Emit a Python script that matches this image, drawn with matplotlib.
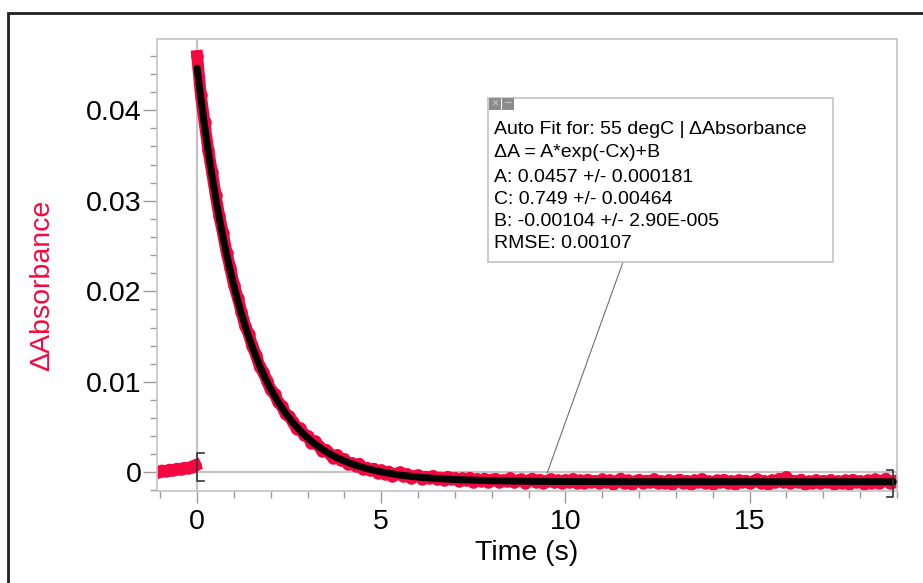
import numpy as np
from matplotlib import pyplot as plt
from matplotlib import rc
from matplotlib.patches import Rectangle
from matplotlib.ticker import MultipleLocator

rc('font', family=['Liberation Sans', 'DejaVu Sans'])

W, H = 923, 583

# pre-trigger data, t = -1.05 ... -0.05 s
pre_t = np.round(np.arange(-1.05, 0.0, 0.1), 2)
pre_y = [0.00008, 0.00020, 0.00012, 0.00030, 0.00024, 0.00040,
         0.00034, 0.00050, 0.00046, 0.00062, 0.00078]

# decay data, t = 0.0 ... 18.9 s
run_t = np.round(np.arange(0.0, 18.95, 0.1), 1)
run_y = [0.04600, 0.04166, 0.03870, 0.03566, 0.03323, 0.03069, 0.02832, 0.02641, 0.02426, 0.02255,
         0.02067, 0.01931, 0.01776, 0.01622, 0.01528, 0.01392, 0.01295, 0.01165, 0.01103, 0.01007,
         0.00908, 0.00864, 0.00776, 0.00732, 0.00643, 0.00619, 0.00558, 0.00481, 0.00487, 0.00417,
         0.00399, 0.00324, 0.00342, 0.00292, 0.00234, 0.00248, 0.00204, 0.00162, 0.00191, 0.00132,
         0.00145, 0.00088, 0.00103, 0.00069, 0.00095, 0.00033, 0.00052, 0.00021, 0.00041, -0.00008,
         0.00024, -0.00014, 0.00009, -0.00037, -0.00014, 0.00000, -0.00045, -0.00020, -0.00065, -0.00039,
         -0.00033,
         -0.00072, -0.00048, -0.00066, -0.00040, -0.00078, -0.00058, -0.00082, -0.00050, -0.00074, -0.00062,
         -0.00096, -0.00066, -0.00088, -0.00060, -0.00102, -0.00074, -0.00092, -0.00070, -0.00108, -0.00080,
         -0.00072, -0.00110, -0.00086, -0.00100, -0.00064, -0.00112, -0.00090, -0.00078, -0.00116, -0.00088,
         -0.00070, -0.00106, -0.00082, -0.00118, -0.00094, -0.00076, -0.00112, -0.00090, -0.00120, -0.00084,
         -0.00102, -0.00074, -0.00116, -0.00090, -0.00122, -0.00080, -0.00108, -0.00094, -0.00118, -0.00078,
         -0.00112, -0.00088, -0.00124, -0.00096, -0.00070, -0.00114, -0.00090, -0.00126, -0.00100, -0.00082,
         -0.00118, -0.00092, -0.00110, -0.00076, -0.00122, -0.00098, -0.00114, -0.00086, -0.00128, -0.00096,
         -0.00080, -0.00116, -0.00094, -0.00124, -0.00088, -0.00108, -0.00074, -0.00120, -0.00100, -0.00130,
         -0.00090, -0.00112, -0.00082, -0.00118, -0.00096, -0.00126, -0.00086, -0.00110, -0.00092, -0.00122,
         -0.00098, -0.00078, -0.00116, -0.00094, -0.00124, -0.00088, -0.00112, -0.00072, -0.00106, -0.00050,
         -0.00120, -0.00092, -0.00110, -0.00080, -0.00126, -0.00100, -0.00116, -0.00086, -0.00122, -0.00094,
         -0.00112, -0.00084, -0.00128, -0.00098, -0.00118, -0.00090, -0.00124, -0.00082, -0.00110, -0.00096,
         -0.00126, -0.00088, -0.00114, -0.00078, -0.00120, -0.00092, -0.00070, -0.00116, -0.00102]

# auto fit curve
fit_t = [0.0, 0.1, 0.2, 0.3, 0.4, 0.5, 0.6, 0.7, 0.8, 0.9, 1.0, 1.1, 1.2, 1.3, 1.4, 1.5,
         1.6, 1.7, 1.8, 1.9, 2.0, 2.2, 2.4, 2.6, 2.8, 3.0, 3.2, 3.4, 3.6, 3.8, 4.0, 4.3,
         4.6, 5.0, 5.5, 6.0, 6.5, 7.0, 8.0, 9.0, 10.0, 11.0, 12.0, 14.0, 16.0, 18.9]
fit_y = [0.04466, 0.04136, 0.03830, 0.03546, 0.03283, 0.03039, 0.02812, 0.02601, 0.02406,
         0.02225, 0.02057, 0.01901, 0.01756, 0.01622, 0.01498, 0.01382, 0.01275, 0.01175,
         0.01083, 0.00997, 0.00918, 0.00776, 0.00653, 0.00548, 0.00457, 0.00379, 0.00312,
         0.00254, 0.00204, 0.00161, 0.00125, 0.00079, 0.00042, 0.00004, -0.00030, -0.00053,
         -0.00068, -0.00080, -0.00093, -0.00099, -0.00102, -0.00103, -0.00104, -0.00104,
         -0.00104, -0.00104]
fit_start, fit_end = 0.0, 18.9

fit_lines = ['Auto Fit for: 55 degC | \u0394Absorbance',
             '\u0394A = A*exp(-Cx)+B',
             'A: 0.0457 +/- 0.000181',
             'C: 0.749 +/- 0.00464',
             'B: -0.00104 +/- 2.90E-005',
             'RMSE: 0.00107']

red = '#f5083f'
gray = '#c4c4c4'


def px(x, y):
    return x / W, 1 - y / H


fig = plt.figure(figsize=(W / 100, H / 100), dpi=100)
ax = fig.add_axes([157 / W, 1 - 490.7 / H, (897 - 157) / W, (490.7 - 38.5) / H])

# outer frame
fig.patches.append(Rectangle(px(8, 700), 1.2, (700 - 13) / H, transform=fig.transFigure,
                             fill=False, ec='#222222', lw=2.0))

ax.axhline(0, color=gray, lw=1.6, zorder=1)
ax.axvline(0, color=gray, lw=1.6, zorder=1)

ax.plot(pre_t, pre_y, '-o', color=red, lw=8.5, ms=9, mew=0, zorder=2)
ax.plot(run_t, run_y, '-o', color=red, lw=8.5, ms=9, mew=0, zorder=2)
ax.plot(fit_t, fit_y, '-', color='black', lw=5.0, solid_capstyle='round', zorder=3)

# fit range brackets
for xb, yc, d in [(fit_start, pre_y[-1] - 0.0002, 0.18), (fit_end, run_y[-1] - 0.0002, -0.18)]:
    ax.plot([xb + d, xb, xb, xb + d], [yc + 0.0015, yc + 0.0015, yc - 0.0015, yc - 0.0015],
            color='#333333', lw=1.2, zorder=4, clip_on=False)

ax.set_xlim(-1.09, 19.0)
ax.set_ylim(-0.00203, 0.04793)
ax.xaxis.set_major_locator(MultipleLocator(5))
ax.xaxis.set_minor_locator(MultipleLocator(1))
ax.yaxis.set_major_locator(MultipleLocator(0.01))
ax.yaxis.set_minor_locator(MultipleLocator(0.002))
ax.yaxis.set_major_formatter(lambda v, p: '0' if abs(v) < 1e-9 else '%.2f' % v)

for s in ax.spines.values():
    s.set_color(gray)
    s.set_linewidth(1.2)
ax.tick_params(which='both', colors='#9a9a9a', labelcolor='black', labelsize=20.5)
ax.tick_params(axis='y', which='major', length=10, width=1.0, pad=1)
ax.tick_params(axis='y', which='minor', length=5, width=1.0)
ax.tick_params(axis='x', which='major', length=8.5, width=1.0, pad=5)
ax.tick_params(axis='x', which='minor', length=4.7, width=1.0)

fig.text(*px(42, 285), '\u0394Absorbance', color=red, fontsize=20.5, rotation=90,
         ha='center', va='center')
fig.text(*px(527, 553), 'Time (s)', fontsize=20.5, ha='center', va='center')

# fit info box
bx0, by0, bx1, by1 = 488, 97.5, 833, 261.5
fig.patches.append(Rectangle(px(bx0, by1), (bx1 - bx0) / W, (by1 - by0) / H,
                             transform=fig.transFigure, fc='white', ec=gray, lw=1.2, zorder=5))
for i, sym in enumerate(['\u00d7', '\u2013']):
    fig.patches.append(Rectangle(px(489 + 13 * i, 110), 12 / W, 12 / H, transform=fig.transFigure,
                                 fc='#8c8c8c', ec='none', zorder=6))
    fig.text(*px(495 + 13 * i, 103.5), sym, fontsize=9, color='#c8c8c8', ha='center',
             va='center', zorder=7)
line_y = [129, 152.5, 177, 200, 222, 243]
for s, yy in zip(fit_lines, line_y):
    fig.text(*px(493.5, yy), s, fontsize=14, ha='left', va='center', zorder=7)

ax.annotate('', xy=(9.5, -0.0001), xycoords='data', xytext=px(623, 262),
            textcoords='figure fraction',
            arrowprops=dict(arrowstyle='-', color='#707070', lw=0.8, shrinkA=0, shrinkB=0))

fig.savefig('out.png', dpi=100)
